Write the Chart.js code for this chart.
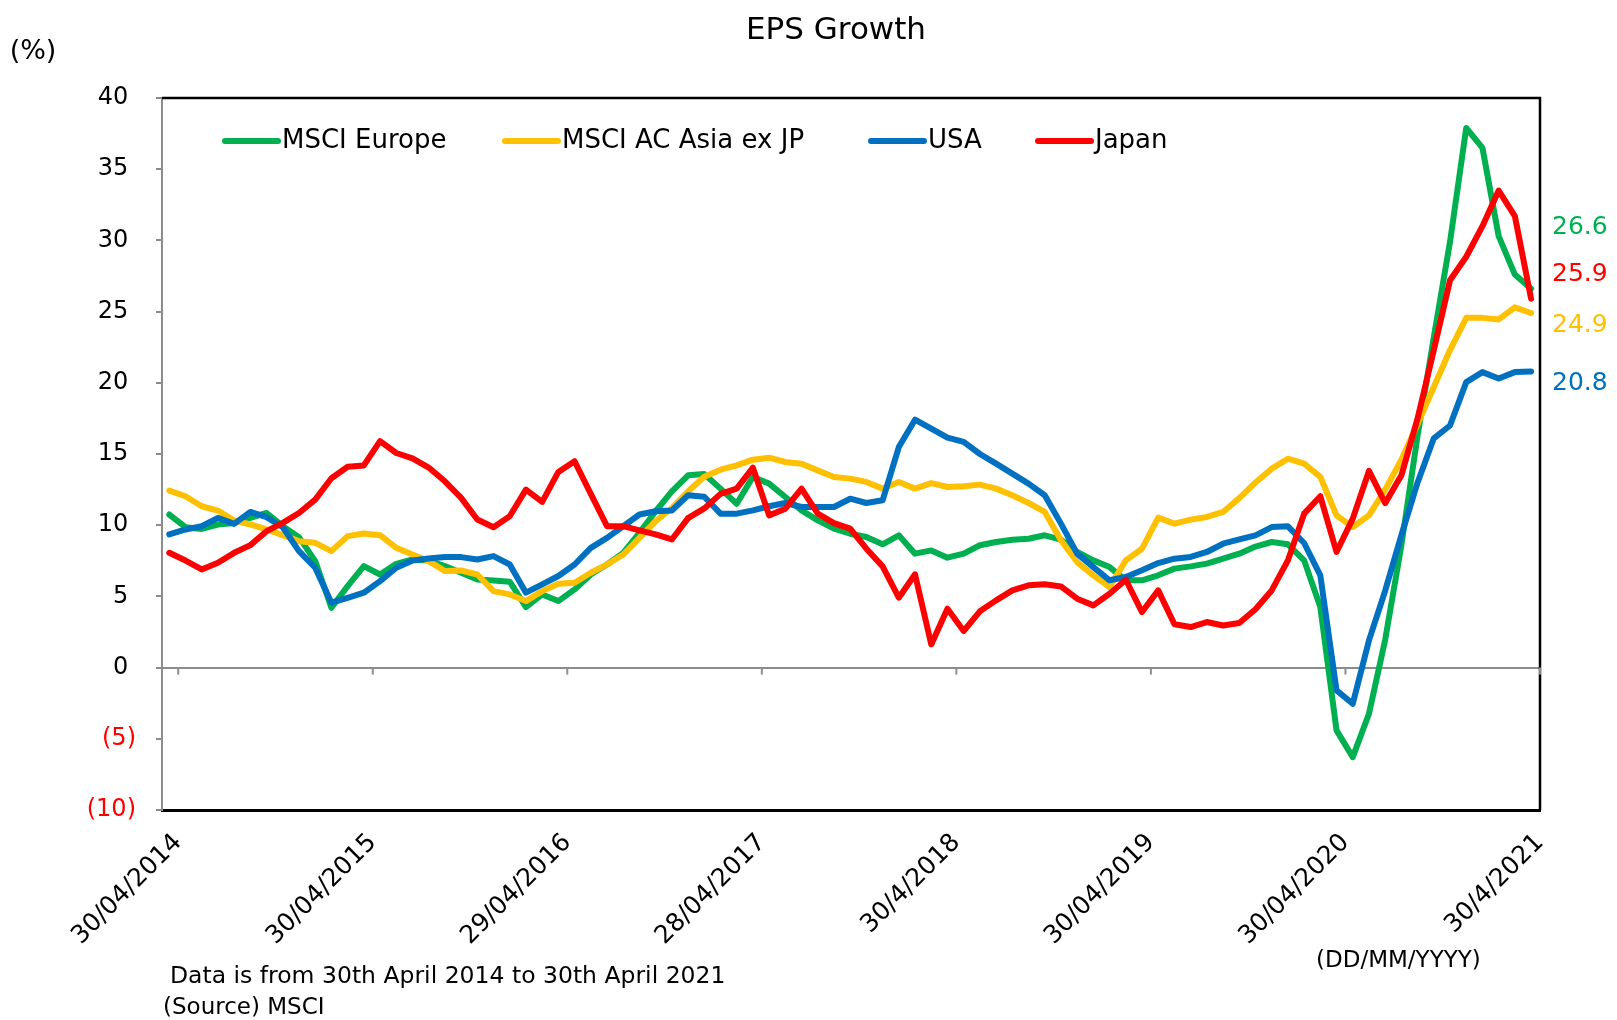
<!DOCTYPE html>
<html>
<head>
<meta charset="utf-8">
<title>EPS Growth</title>
<script src="https://cdn.jsdelivr.net/npm/chart.js@4.4.0/dist/chart.umd.min.js"></script>
<style>
  html, body { margin: 0; padding: 0; background: #fff; }
  #wrap { width: 1617px; height: 1020px; }
</style>
</head>
<body>
<div id="wrap"><canvas id="epsChart" width="1617" height="1020"></canvas></div>
<script>
// EPS growth (%), monthly, 30/04/2014 .. 30/04/2021 (85 points)
const europe = [
  10.75, 9.86, 9.74, 10.05, 10.16, 10.51, 10.86, 9.93, 9.16, 7.48, 4.2, 5.72,
  7.13, 6.54, 7.29, 7.59, 7.52, 7.13, 6.66, 6.19, 6.12, 6.03, 4.25, 5.14,
  4.67, 5.49, 6.54, 7.24, 8.06, 9.46, 10.98, 12.38, 13.5, 13.6, 12.57, 11.51,
  13.39, 12.92, 11.98, 11.04, 10.34, 9.76, 9.4, 9.17, 8.66, 9.29, 8.0, 8.23,
  7.72, 8.0, 8.59, 8.82, 8.98, 9.05, 9.29, 8.98, 8.12, 7.53, 7.06, 6.13,
  6.13, 6.48, 6.95, 7.11, 7.3, 7.65, 8.0, 8.5, 8.82, 8.66, 7.53, 4.25,
  -4.41, -6.29, -3.24, 1.95, 8.6, 16.3, 23.2, 29.9, 37.9, 36.5, 30.3, 27.6,
  26.6
];
const asiaExJp = [
  12.43, 12.03, 11.33, 11.03, 10.33, 10.05, 9.7, 9.3, 8.88, 8.76, 8.18, 9.23,
  9.42, 9.3, 8.41, 7.94, 7.48, 6.78, 6.82, 6.54, 5.37, 5.14, 4.67, 5.37,
  5.89, 5.96, 6.66, 7.24, 7.94, 9.11, 10.28, 11.21, 12.38, 13.4, 13.9, 14.2,
  14.6, 14.74, 14.44, 14.32, 13.85, 13.39, 13.27, 13.04, 12.57, 13.04, 12.57, 12.96,
  12.68, 12.73, 12.85, 12.57, 12.1, 11.56, 10.93, 8.94, 7.41, 6.48, 5.66, 7.53,
  8.35, 10.53, 10.11, 10.39, 10.58, 10.93, 11.9, 13.0, 13.97, 14.67, 14.32, 13.39,
  10.69, 9.87, 10.69, 12.5, 14.6, 17.1, 19.7, 22.3, 24.56, 24.56, 24.45, 25.3,
  24.9
];
const usa = [
  9.35, 9.7, 9.93, 10.51, 10.09, 10.93, 10.56, 9.86, 8.18, 7.01, 4.56, 4.9,
  5.26, 6.07, 7.01, 7.52, 7.66, 7.76, 7.76, 7.59, 7.83, 7.24, 5.26, 5.84,
  6.43, 7.24, 8.41, 9.11, 9.93, 10.75, 10.98, 11.03, 12.1, 12.0, 10.81, 10.81,
  11.04, 11.33, 11.56, 11.28, 11.28, 11.28, 11.86, 11.56, 11.75, 15.49, 17.41, 16.78,
  16.15, 15.85, 15.0, 14.32, 13.62, 12.92, 12.1, 10.11, 8.0, 7.06, 6.13, 6.36,
  6.83, 7.34, 7.65, 7.77, 8.12, 8.7, 9.0, 9.29, 9.87, 9.92, 8.75, 6.48,
  -1.6, -2.54, 1.91, 5.4, 9.3, 13.0, 16.1, 17.0, 20.05, 20.75, 20.3, 20.75,
  20.8
];
const japan = [
  8.06, 7.52, 6.89, 7.36, 8.06, 8.6, 9.58, 10.16, 10.86, 11.8, 13.3, 14.1,
  14.2, 15.9, 15.07, 14.7, 14.05, 13.08, 11.92, 10.4, 9.86, 10.63, 12.5, 11.64,
  13.74, 14.49, 12.2, 9.93, 9.93, 9.63, 9.35, 9.0, 10.5, 11.18, 12.2, 12.57,
  14.04, 10.69, 11.16, 12.57, 10.81, 10.15, 9.76, 8.35, 7.11, 4.91, 6.55, 1.63,
  4.14, 2.57, 3.95, 4.72, 5.42, 5.78, 5.85, 5.7, 4.84, 4.37, 5.19, 6.17,
  3.9, 5.42, 3.04, 2.85, 3.2, 2.96, 3.13, 4.1, 5.42, 7.53, 10.81, 12.03,
  8.12, 10.46, 13.81, 11.55, 13.5, 17.5, 22.3, 27.2, 28.85, 31.0, 33.5, 31.7,
  25.9
];

const tickMonths = [0, 12, 24, 36, 48, 60, 72, 84];
const tickLabels = ['30/04/2014', '30/04/2015', '29/04/2016', '28/04/2017',
  '30/4/2018', '30/04/2019', '30/04/2020', '30/4/2021'];

const seriesNames = ['MSCI Europe', 'MSCI AC Asia ex JP', 'USA', 'Japan'];
const seriesColors = ['#00B050', '#FFC000', '#0070C0', '#FF0000'];
const seriesData = [europe, asiaExJp, usa, japan];

const FONT = '"DejaVu Sans", Verdana, sans-serif';

const toPoints = arr => arr.map((v, i) => ({ x: i, y: v }));

// extra drawing: frame, zero-line ticks, title, legend, end labels, notes
const decorations = {
  id: 'decorations',
  afterDraw(chart) {
    const ctx = chart.ctx;
    const area = chart.chartArea;
    const xScale = chart.scales.x;
    const yScale = chart.scales.y;
    ctx.save();

    // top and right frame
    ctx.strokeStyle = '#000';
    ctx.lineWidth = 2.5;
    ctx.beginPath();
    ctx.moveTo(area.left, area.top);
    ctx.lineTo(area.right, area.top);
    ctx.lineTo(area.right, area.bottom);
    ctx.stroke();

    // tick marks hanging from the zero line
    const y0 = yScale.getPixelForValue(0);
    ctx.strokeStyle = '#8c8c8c';
    ctx.lineWidth = 2;
    xScale.ticks.forEach(t => {
      const px = xScale.getPixelForValue(t.value);
      ctx.beginPath();
      ctx.moveTo(px, y0);
      ctx.lineTo(px, y0 + 7);
      ctx.stroke();
    });

    ctx.fillStyle = '#000';
    ctx.textBaseline = 'middle';

    // title and unit
    ctx.font = '31px ' + FONT;
    ctx.textAlign = 'center';
    ctx.fillText('EPS Growth', 836, 31);
    ctx.font = '27px ' + FONT;
    ctx.fillText('(%)', 33, 52);

    // legend inside the plot
    const legendX = [225, 505, 871, 1038];
    ctx.font = '26px ' + FONT;
    ctx.textAlign = 'left';
    ctx.lineCap = 'round';
    seriesNames.forEach((name, k) => {
      ctx.strokeStyle = seriesColors[k];
      ctx.lineWidth = 6;
      ctx.beginPath();
      ctx.moveTo(legendX[k], 141);
      ctx.lineTo(legendX[k] + 53, 141);
      ctx.stroke();
      ctx.fillStyle = '#000';
      ctx.fillText(name, legendX[k] + 57, 141);
    });

    // latest values at the right
    const endLabelY = [227, 325, 383, 274];
    ctx.font = '25px ' + FONT;
    seriesData.forEach((arr, k) => {
      ctx.fillStyle = seriesColors[k];
      ctx.fillText(arr[arr.length - 1].toFixed(1), 1552, endLabelY[k]);
    });

    // notes
    ctx.fillStyle = '#000';
    ctx.font = '23.5px ' + FONT;
    ctx.fillText('Data is from 30th April 2014 to 30th April 2021', 170, 977);
    ctx.font = '23px ' + FONT;
    ctx.fillText('(Source) MSCI', 163, 1008);
    ctx.fillText('(DD/MM/YYYY)', 1316, 961);

    ctx.restore();
  }
};

new Chart(document.getElementById('epsChart'), {
  type: 'line',
  data: {
    datasets: seriesData.map((arr, k) => ({
      label: seriesNames[k],
      data: toPoints(arr),
      borderColor: seriesColors[k],
      backgroundColor: seriesColors[k],
      borderWidth: 6,
      borderJoinStyle: 'round',
      borderCapStyle: 'round',
      pointRadius: 0,
      tension: 0,
      fill: false,
      order: 3 - k // Japan drawn on top, like the source
    }))
  },
  options: {
    responsive: false,
    animation: false,
    devicePixelRatio: 1,
    layout: { padding: { top: 98, right: 77, bottom: 0, left: 0 } },
    plugins: {
      legend: { display: false },
      title: { display: false },
      tooltip: { enabled: false }
    },
    scales: {
      x: {
        type: 'linear',
        min: -0.45,
        max: 84.55,
        afterBuildTicks: scale => {
          scale.ticks = tickMonths.map(m => ({ value: m + 0.55 }));
        },
        afterFit: scale => { scale.height = 210; },
        grid: { display: true, drawOnChartArea: false, drawTicks: false },
        border: { display: true, color: '#000', width: 3 },
        ticks: {
          autoSkip: false,
          minRotation: 45,
          maxRotation: 45,
          padding: 18,
          color: '#000',
          font: { family: FONT, size: 25 },
          callback: (value, index) => tickLabels[index]
        }
      },
      y: {
        min: -10,
        max: 40,
        afterFit: scale => { scale.width = 162; },
        grid: {
          color: c => (c.tick && c.tick.value === 0 ? '#8c8c8c' : 'rgba(0,0,0,0)'),
          lineWidth: 2,
          tickColor: '#8c8c8c',
          tickLength: 6,
          drawTicks: true
        },
        border: { display: true, color: '#8c8c8c', width: 2 },
        ticks: {
          stepSize: 5,
          padding: 20,
          color: c => (c.tick.value < 0 ? '#FF0000' : '#000'),
          font: { family: FONT, size: 24 },
          // positives keep a trailing gap the width of ")" like the source format
          callback: v => (v < 0 ? '(' + (-v) + ')' : String(v) + ' ')
        }
      }
    }
  },
  plugins: [decorations]
});
</script>
</body>
</html>
